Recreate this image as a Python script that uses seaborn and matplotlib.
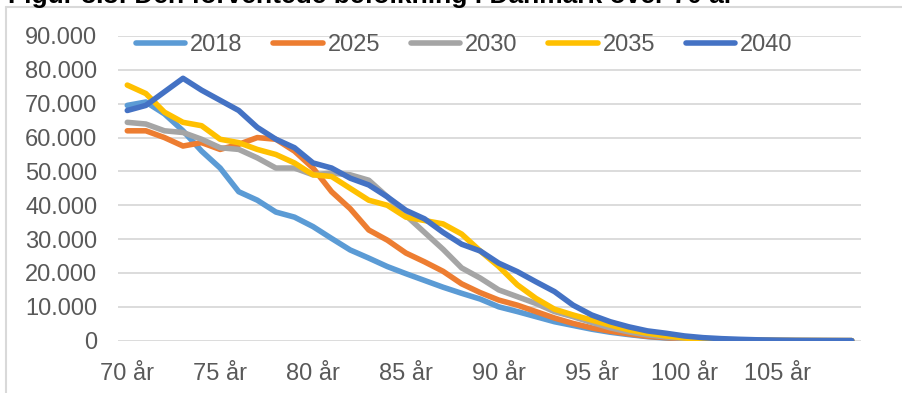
import matplotlib
matplotlib.use("Agg")
import matplotlib.pyplot as plt
import matplotlib.ticker as mticker
from matplotlib.lines import Line2D
import seaborn as sns
import pandas as pd

# Forventet antal personer pr. alderstrin (70-109 år)
ages = list(range(70, 110))
tail = [0.4, 0.25, 0.15, 0.1, 0.06, 0.04, 0.03, 0.02, 0.01]

pop_2018 = [69.5, 70.5, 67.0, 62.0, 56.0, 51.0, 44.0, 41.5, 38.0, 36.5,
            33.7, 30.2, 26.8, 24.4, 21.9, 19.8, 17.8, 15.8, 14.0, 12.3,
            10.0, 8.6, 7.1, 5.6, 4.5, 3.4, 2.5, 1.8, 1.2, 0.8,
            0.55] + tail
pop_2025 = [62.0, 62.0, 60.0, 57.5, 58.5, 56.5, 58.0, 60.0, 59.5, 56.0,
            51.0, 44.0, 39.0, 32.7, 29.7, 25.9, 23.3, 20.5, 16.8, 14.2,
            12.0, 10.5, 8.6, 6.7, 5.1, 3.8, 2.8, 2.0, 1.3, 0.9,
            0.55] + tail
pop_2030 = [64.5, 64.0, 62.0, 61.5, 59.5, 57.0, 56.5, 54.0, 51.0, 51.0,
            49.0, 49.5, 49.0, 47.4, 42.5, 37.0, 32.0, 27.0, 21.5, 18.5,
            15.0, 13.0, 11.0, 8.6, 7.1, 5.4, 3.8, 2.6, 1.7, 1.1,
            0.65] + tail
pop_2035 = [75.5, 73.0, 67.5, 64.5, 63.5, 59.5, 58.5, 56.5, 55.0, 52.5,
            49.0, 48.5, 45.0, 41.5, 40.0, 36.5, 35.5, 34.5, 31.5, 26.5,
            21.9, 16.5, 12.5, 9.3, 7.6, 6.1, 4.6, 3.2, 2.2, 1.4,
            0.8] + tail
pop_2040 = [68.0, 69.5, 73.5, 77.5, 74.0, 71.0, 68.0, 63.0, 59.5, 57.0,
            52.5, 51.0, 48.0, 46.0, 42.5, 38.5, 36.0, 32.0, 28.5, 26.5,
            22.9, 20.4, 17.4, 14.5, 10.5, 7.6, 5.6, 4.1, 2.9, 2.2,
            1.4, 0.9, 0.6, 0.4, 0.25, 0.15, 0.08, 0.05, 0.03, 0.02]

series = {"2018": pop_2018, "2025": pop_2025, "2030": pop_2030,
          "2035": pop_2035, "2040": pop_2040}
colors = ["#5b9bd5", "#ed7d31", "#a5a5a5", "#ffc000", "#4472c4"]

rows = []
for year, vals in series.items():
    for i, (a, v) in enumerate(zip(ages, vals)):
        rows.append({"pos": i, "alder": a, "antal": v * 1000, "år": year})
df = pd.DataFrame(rows)

sns.set_theme(style="white")
plt.rcParams["font.family"] = ["Liberation Sans", "DejaVu Sans"]

fig = plt.figure(figsize=(9.02, 3.93), dpi=100)
ax = fig.add_axes([118 / 902, 1 - 340.7 / 393, (861 - 118) / 902, (340.7 - 36) / 393])

sns.lineplot(data=df, x="pos", y="antal", hue="år", palette=colors,
             linewidth=4.0, ax=ax, legend=True, sort=False)
for ln in ax.lines:
    ln.set_solid_capstyle("round")
    ln.set_solid_joinstyle("round")

ax.set_xlim(-0.5, len(ages) - 0.5)
ax.set_ylim(0, 90000)
ax.yaxis.set_major_locator(mticker.MultipleLocator(10000))
ax.yaxis.set_major_formatter(mticker.FuncFormatter(
    lambda v, p: "0" if v == 0 else f"{int(v):,}".replace(",", ".")))
tick_pos = list(range(0, len(ages), 5))
ax.set_xticks(tick_pos)
ax.set_xticklabels([f"{ages[i]} år" for i in tick_pos])
ax.grid(axis="y", color="#d9d9d9", linewidth=1.3)
ax.set_axisbelow(True)
for s in ax.spines.values():
    s.set_visible(False)
ax.tick_params(axis="both", length=0, labelsize=17, labelcolor="#595959")
ax.tick_params(axis="y", pad=15)
ax.tick_params(axis="x", pad=16)
ax.set_xlabel("")
ax.set_ylabel("")

handles, labels = ax.get_legend_handles_labels()
for h in handles:
    h.set_linewidth(4.0)
    h.set_solid_capstyle("round")
ax.legend(handles, labels, loc="center", bbox_to_anchor=(464 / 902, 1 - 45 / 393),
          bbox_transform=fig.transFigure, ncol=5, frameon=False, fontsize=17,
          handlelength=2.1, handletextpad=0.2, columnspacing=1.3,
          labelcolor="#595959", borderpad=0)

# Ramme om figuren
fig.add_artist(Line2D([6 / 902, 6 / 902], [0, 1 - 7 / 393], color="#d9d9d9",
                      linewidth=1.5, transform=fig.transFigure))
fig.add_artist(Line2D([6 / 902, 1], [1 - 7 / 393, 1 - 7 / 393], color="#d9d9d9",
                      linewidth=1.5, transform=fig.transFigure))

fig.text(8 / 902, 1 - 3 / 393, "Figur 3.3: Den forventede befolkning i Danmark over 70 år",
         fontsize=19, fontweight="bold", color="black", va="baseline", ha="left")

fig.savefig("out.png", dpi=100)
